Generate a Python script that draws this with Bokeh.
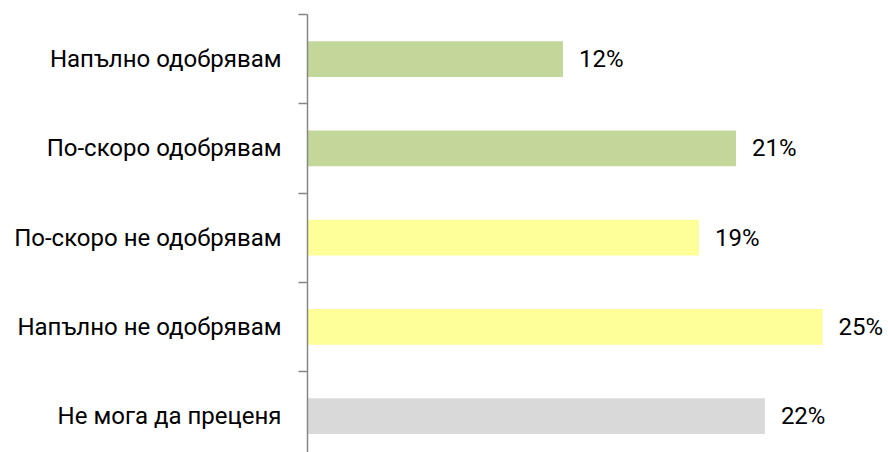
from bokeh.plotting import figure
from bokeh.models import Range1d, FixedTicker, ColumnDataSource, LabelSet
from bokeh.core.properties import value
from bokeh.embed import file_html
from bokeh.resources import INLINE

categories = ["Напълно одобрявам", "По-скоро одобрявам", "По-скоро не одобрявам",
              "Напълно не одобрявам", "Не мога да преценя"]
values = [12.4, 20.8, 19.0, 25.0, 22.2]
value_labels = ["12%", "21%", "19%", "25%", "22%"]
colors = ["#C4D79B", "#C4D79B", "#FFFF99", "#FFFF99", "#D9D9D9"]

n = len(categories)
ypos = [n - 1 - i for i in range(n)]

src = ColumnDataSource(dict(y=ypos, v=values, lab=value_labels, c=colors))

p = figure(width=888, height=452, output_backend="svg", toolbar_location=None,
           x_range=Range1d(0, 28.2), y_range=Range1d(-0.407, 4.5),
           min_border_left=307, min_border_right=0, min_border_top=14, min_border_bottom=0)
p.hbar(y="y", left=0, right="v", height=0.40, color="c", source=src, line_color=None)

labels = LabelSet(x="v", y="y", text="lab", source=src, x_offset=16, text_baseline="middle",
                  text_font=value("Roboto"), text_font_size="24px", text_color="#000000")
p.add_layout(labels)

p.xaxis.visible = False
p.xgrid.visible = False
p.ygrid.visible = False
p.outline_line_color = None

yax = p.yaxis[0]
yax.ticker = FixedTicker(ticks=ypos, minor_ticks=[i + 0.5 for i in range(n)])
yax.major_label_overrides = {y: categories[i] for i, y in enumerate(ypos)}
yax.major_tick_out = 0
yax.major_tick_in = 0
yax.minor_tick_out = 9
yax.minor_tick_in = 0
yax.minor_tick_line_color = "#868686"
yax.minor_tick_line_width = 1.5
yax.axis_line_color = "#868686"
yax.axis_line_width = 1.5
yax.major_label_standoff = 17
yax.major_label_text_font = "Roboto"
yax.major_label_text_font_size = "24px"
yax.major_label_text_color = "#000000"

open("out.html", "w").write(file_html(p, INLINE))
